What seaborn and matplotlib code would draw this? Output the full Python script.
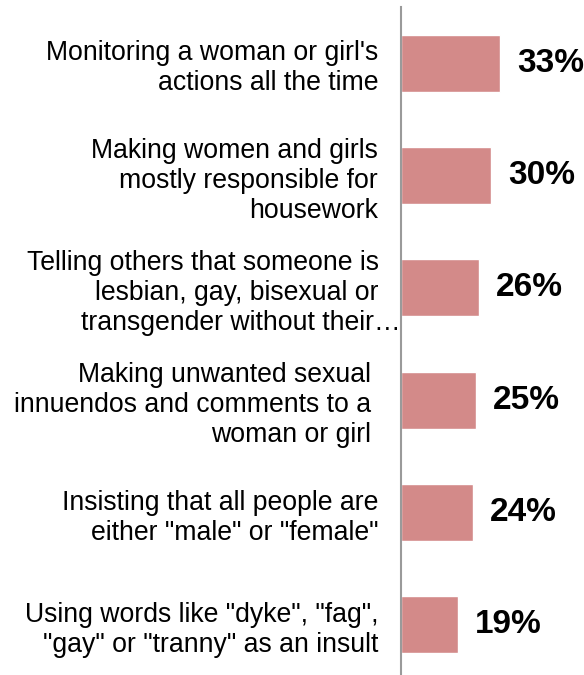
import matplotlib
matplotlib.use("Agg")
import matplotlib.pyplot as plt
import matplotlib.transforms as mtransforms
import seaborn as sns
import pandas as pd

categories = [
    "Monitoring a woman or girl's\nactions all the time",
    "Making women and girls\nmostly responsible for\nhousework",
    "Telling others that someone is   \nlesbian, gay, bisexual or   \ntransgender without their\u2026",
    "Making unwanted sexual \ninnuendos and comments to a \nwoman or girl ",
    "Insisting that all people are\neither \"male\" or \"female\"",
    "Using words like \"dyke\", \"fag\",\n\"gay\" or \"tranny\" as an insult",
]
values = [33, 30, 26, 25, 24, 19]

df = pd.DataFrame({"item": categories, "pct": values})

sns.set_style("white")
plt.rcParams["font.family"] = ["Liberation Sans", "DejaVu Sans"]

fig = plt.figure(figsize=(5.84, 6.75), dpi=100)
ax = fig.add_axes([401 / 584, 1 - 681 / 675, 1 - 401 / 584, 674 / 675])

sns.barplot(data=df, y="item", x="pct", orient="h", color="#D38A89",
            width=0.507, saturation=1, ax=ax)

ax.set_xlim(0, 61.3)
ax.set_ylim(5.5, -0.5)
ax.set_xlabel("")
ax.set_ylabel("")
ax.set_xticks([])

for side in ["top", "right", "bottom"]:
    ax.spines[side].set_visible(False)
ax.spines["left"].set_color("#9A9A9A")
ax.spines["left"].set_linewidth(1.5)

ax.tick_params(axis="y", length=0, pad=16.5)
for i, lab in enumerate(ax.get_yticklabels()):
    lab.set_fontsize(19.2)
    lab.set_linespacing(1.2)
    lab.set_color("#000000")
    lab.set_horizontalalignment("right")
    lab.set_multialignment("right")
    if i == 2:
        # truncated label in the original spills past the others
        shift = mtransforms.ScaledTranslation(0.23, 0, fig.dpi_scale_trans)
        lab.set_transform(lab.get_transform() + shift)

ax.bar_label(ax.containers[0], labels=[f"{v}%" for v in values],
             padding=12.5, fontsize=24, fontweight="bold", color="#000000")

fig.savefig("out.png", dpi=100)
